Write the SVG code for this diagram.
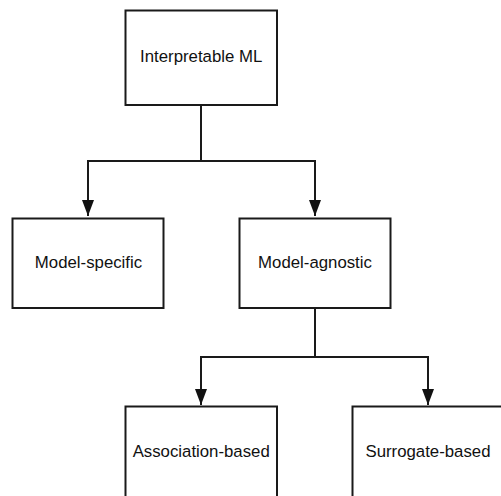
<svg xmlns="http://www.w3.org/2000/svg" width="501" height="496" viewBox="0 0 501 496">
<style>
.box{fill:#ffffff;stroke:#1a1a1a;stroke-width:2}
.lbl{font-family:"Liberation Sans",Arial,sans-serif;font-size:16.8px;fill:#111111;text-anchor:middle}
.conn{fill:none;stroke:#1a1a1a;stroke-width:2}
</style>
<defs>
<marker id="arrow" markerUnits="userSpaceOnUse" markerWidth="16" markerHeight="12" refX="16" refY="6" viewBox="0 0 16 12" orient="auto">
<path d="M0,0 L16,6 L0,12 Z" fill="#111111"/>
</marker>
</defs>
<rect x="0" y="0" width="501" height="496" fill="#ffffff"/>
<g id="connectors">
<path class="conn" d="M201,105 V161 H88 V216" marker-end="url(#arrow)"/>
<path class="conn" d="M201,161 H315 V216" marker-end="url(#arrow)"/>
<path class="conn" d="M315,308 V357 H201 V405" marker-end="url(#arrow)"/>
<path class="conn" d="M315,357 H428 V405" marker-end="url(#arrow)"/>
</g>
<g id="interpretable-ml">
<rect class="box" x="125.5" y="10.5" width="151.5" height="94.5"/>
<text class="lbl" x="201.2" y="62">Interpretable ML</text>
</g>
<g id="model-specific">
<rect class="box" x="12.5" y="218.5" width="151" height="89.5"/>
<text class="lbl" x="88.5" y="268">Model-specific</text>
</g>
<g id="model-agnostic">
<rect class="box" x="239.5" y="218.5" width="151" height="89.5"/>
<text class="lbl" x="315" y="268">Model-agnostic</text>
</g>
<g id="association-based">
<rect class="box" x="125.5" y="406.5" width="151.5" height="95"/>
<text class="lbl" x="201.2" y="457">Association-based</text>
</g>
<g id="surrogate-based">
<rect class="box" x="352.5" y="406.5" width="151" height="95"/>
<text class="lbl" x="428" y="457">Surrogate-based</text>
</g>
</svg>
